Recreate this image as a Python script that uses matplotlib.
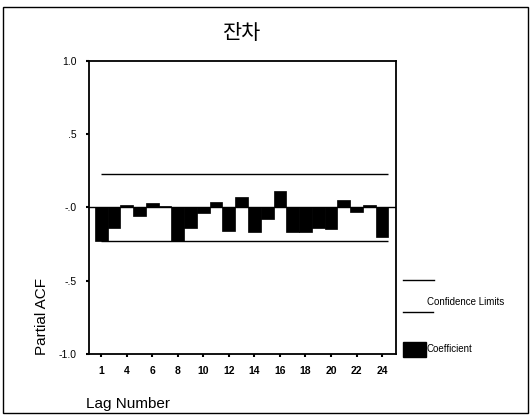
import matplotlib
matplotlib.use("Agg")
from matplotlib import pyplot as plt
from matplotlib.patches import Rectangle
from matplotlib.lines import Line2D
import numpy as np

# partial ACF of residuals
lags = np.arange(1, 24)
pacf = [-0.23, -0.14, 0.02, -0.06, 0.03, 0.01, -0.23, -0.14, -0.04, 0.04,
        -0.16, 0.07, -0.17, -0.08, 0.11, -0.17, -0.17, -0.14, -0.15, 0.05,
        -0.03, 0.02, -0.20]
conf_upper = 0.23
conf_lower = -0.23
tick_lags = np.arange(1, 24, 2)
tick_labels = ['1', '4', '6', '8', '10', '12', '14', '16', '18', '20', '22', '24']
y_ticks = [-1.0, -0.5, 0.0, 0.5, 1.0]
y_labels = ['-1.0', '-.5', '-.0', '.5', '1.0']


def main():
    plt.rcParams['font.family'] = ['Liberation Sans', 'Noto Sans CJK KR', 'DejaVu Sans']

    fig = plt.figure(figsize=(5.31, 4.17), dpi=100)
    ax = fig.add_axes([0.167, 0.151, 0.579, 0.703])

    ax.bar(lags, pacf, width=1.0, color='black', edgecolor='black', linewidth=0.5)
    ax.axhline(0, color='black', lw=1.0)
    ax.hlines([conf_upper, conf_lower], lags[0], lags[-1] + 0.5, color='black', lw=1.0)

    ax.set_xlim(0.02, 24.1)
    ax.set_ylim(-1.0, 1.0)
    ax.set_xticks(tick_lags)
    ax.set_xticklabels(tick_labels, fontsize=7.5, fontweight='bold')
    ax.set_yticks(y_ticks)
    ax.set_yticklabels(y_labels, fontsize=7.5)
    ax.tick_params(axis='both', direction='out', length=2.5, width=1.5, pad=6)
    for s in ax.spines.values():
        s.set_linewidth(1.3)

    fig.text(0.455, 0.92, '잔차', ha='center', va='center', fontsize=15,
             family=['Noto Sans CJK KR', 'DejaVu Sans'])
    fig.text(0.079, 0.24, 'Partial ACF', rotation=90, ha='center', va='center', fontsize=11)
    fig.text(0.162, 0.03, 'Lag Number', ha='left', va='center', fontsize=11)

    # legend drawn in figure coordinates
    fig.add_artist(Line2D([0.759, 0.817], [0.328, 0.328], color='black', lw=1.0))
    fig.add_artist(Line2D([0.759, 0.815], [0.252, 0.252], color='black', lw=1.0))
    fig.text(0.804, 0.276, 'Confidence Limits', fontsize=7, va='center', ha='left')
    fig.add_artist(Rectangle((0.759, 0.145), 0.044, 0.036, color='black'))
    fig.text(0.804, 0.163, 'Coefficient', fontsize=7, va='center', ha='left')

    # outer frame
    fig.add_artist(Rectangle((0.006, 0.01), 0.988, 0.973, fill=False,
                             edgecolor='black', lw=1.0))

    fig.savefig('out.png', dpi=100)


if __name__ == '__main__':
    main()
